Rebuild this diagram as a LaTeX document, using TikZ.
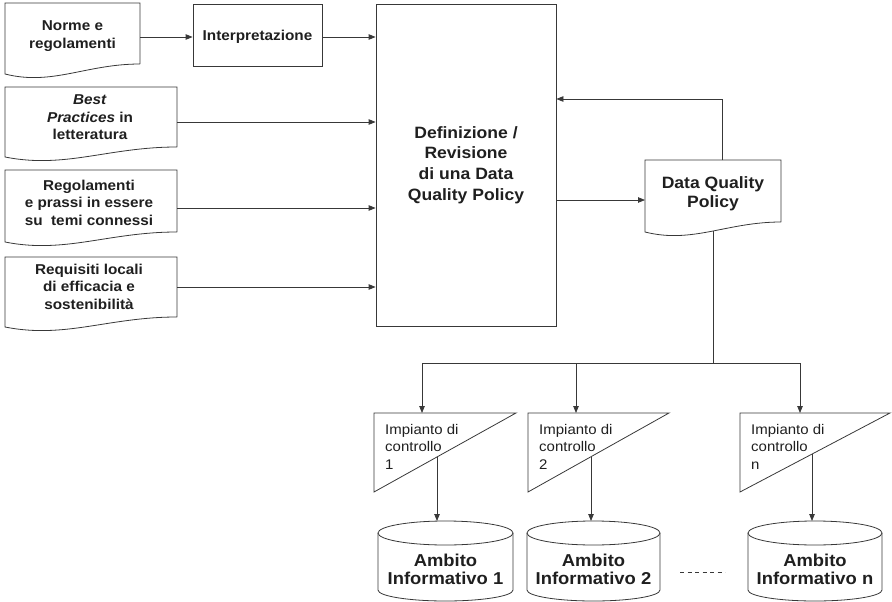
\documentclass[tikz,border=0pt]{standalone}
\usepackage{fontspec}
\setmainfont{Liberation Sans}[FakeStretch=1.07]
\usetikzlibrary{arrows.meta}
\newcommand\docshape[5]{%
  \pgfmathsetmacro\dsa{#1+0.35*(#3-#1)}%
  \pgfmathsetmacro\dsb{#1+0.6*(#3-#1)}%
  \draw[ln] (#3,#5) -- (#3,#2) -- (#1,#2) -- (#1,#4) .. controls (\dsa,#4+12) and (\dsb,#4-10) .. (#3,#5);}
\newcommand\trishape[2]{\draw[ln] (#1,413) -- (#2,413) -- (#1,492) -- cycle;}
\newcommand\cylshape[2]{%
  \pgfmathsetmacro\crx{(#2-#1)/2}%
  \draw[ln] (#1,533) -- (#1,590) arc[start angle=180,end angle=360,x radius=\crx pt,y radius=11pt] -- (#2,533);
  \draw[ln] ({(#1+#2)/2},533) ellipse [x radius=\crx pt, y radius=12pt];}
\begin{document}
\begin{tikzpicture}[x=1pt,y=-1pt,
  ln/.style={draw=black!78, line width=0.8pt},
  arr/.style={ln,-{Triangle[length=7pt,width=5.5pt]}},
  bt/.style={font=\bfseries\fontsize{14.3}{17.5}\selectfont, align=center, inner sep=0pt, text=black!88},
  bigt/.style={font=\bfseries\fontsize{16.4}{20.8}\selectfont, align=center, inner sep=0pt, text=black!88},
  dqt/.style={font=\bfseries\fontsize{16.4}{18.5}\selectfont, align=center, inner sep=0pt, text=black!88},
  cyt/.style={font=\bfseries\fontsize{17.2}{18.5}\selectfont, align=center, inner sep=0pt, text=black!88},
  tt/.style={font=\fontsize{14}{17.5}\selectfont, align=left, inner sep=0pt, anchor=north west, text=black!88},
  rbox/.style={ln, rectangle, inner sep=0pt}
]
\useasboundingbox (0,0) rectangle (892,602);

% documents on the left
\docshape{5}{3}{140}{74}{64}
\docshape{5}{87}{177}{157}{147}
\docshape{5}{170}{177}{242}{232}
\docshape{5}{257}{177}{327}{317}
\node[bt] (n1) at (72.5,36) {Norme e\\regolamenti};
\node[bt] (n2) at (90,117.3) {\textit{Best}\\\textit{Practices} in\\letteratura};
\node[bt] (n3) at (89,202.7) {Regolamenti\\e prassi in essere\\su~ temi connessi};
\node[bt] (n4) at (89,286.7) {Requisiti locali\\di efficacia e\\sostenibilità};

% boxes
\node[rbox, minimum width=129pt, minimum height=62pt] (interp) at (257.5,35) {};
\node[bt] (interpt) at (257.5,37) {Interpretazione};
\node[rbox, bigt, minimum width=180pt, minimum height=322pt] (big) at (466,165) {Definizione /\\Revisione\\di una Data\\Quality Policy};

% data quality policy document
\docshape{645}{160}{781}{232}{222}
\node[dqt] (dqp) at (713,194) {Data Quality\\Policy};

% connector ends
\coordinate (d1o) at (140,37);
\coordinate (d2o) at (177,122);
\coordinate (d3o) at (177,208);
\coordinate (d4o) at (177,287);
\coordinate (dqpin) at (645,200);
\coordinate (dqptop) at (722,160);
\coordinate (dqpbot) at (713,231);
\coordinate (fb) at (0,99);
\coordinate (br) at (713,363);
\coordinate (p1) at (422,413);
\coordinate (p2) at (576,413);
\coordinate (p3) at (800,413);

\draw[arr] (d1o) -- (d1o -| interp.west);
\draw[arr] (interp.east |- d1o) -- (d1o -| big.west);
\draw[arr] (d2o) -- (d2o -| big.west);
\draw[arr] (d3o) -- (d3o -| big.west);
\draw[arr] (d4o) -- (d4o -| big.west);
\draw[arr] (big.east |- dqpin) -- (dqpin);
\draw[arr] (dqptop) |- (big.east |- fb);
\draw[ln] (dqpbot) -- (br);
\draw[arr] (br) -| (p1);
\draw[arr] (br) -| (p2);
\draw[arr] (br) -| (p3);

% control triangles
\trishape{374}{516}
\trishape{528}{669}
\trishape{740}{890}
\node[tt] (t1) at (385,424) {Impianto di\\controllo\\1};
\node[tt] (t2) at (539,424) {Impianto di\\controllo\\2};
\node[tt] (t3) at (751,424) {Impianto di\\controllo\\n};

% cylinders
\cylshape{378}{513}
\cylshape{527}{660}
\cylshape{748}{882}
\node[cyt] (c1) at (445.5,569.4) {Ambito\\Informativo 1};
\node[cyt] (c2) at (593.5,569.4) {Ambito\\Informativo 2};
\node[cyt] (c3) at (815,569.4) {Ambito\\Informativo n};

\coordinate (h1) at (437,457);
\coordinate (h2) at (591,456.7);
\coordinate (h3) at (812,454.1);
\coordinate (k1) at (437,521);
\coordinate (k2) at (591,521);
\coordinate (k3) at (812,521);
\draw[arr] (h1) -- (k1);
\draw[arr] (h2) -- (k2);
\draw[arr] (h3) -- (k3);

\coordinate (ds1) at (680,572);
\coordinate (ds2) at (725,572);
\draw[ln, line width=0.6pt, dash pattern=on 4pt off 3.5pt] (ds1) -- (ds2);
\end{tikzpicture}
\end{document}
